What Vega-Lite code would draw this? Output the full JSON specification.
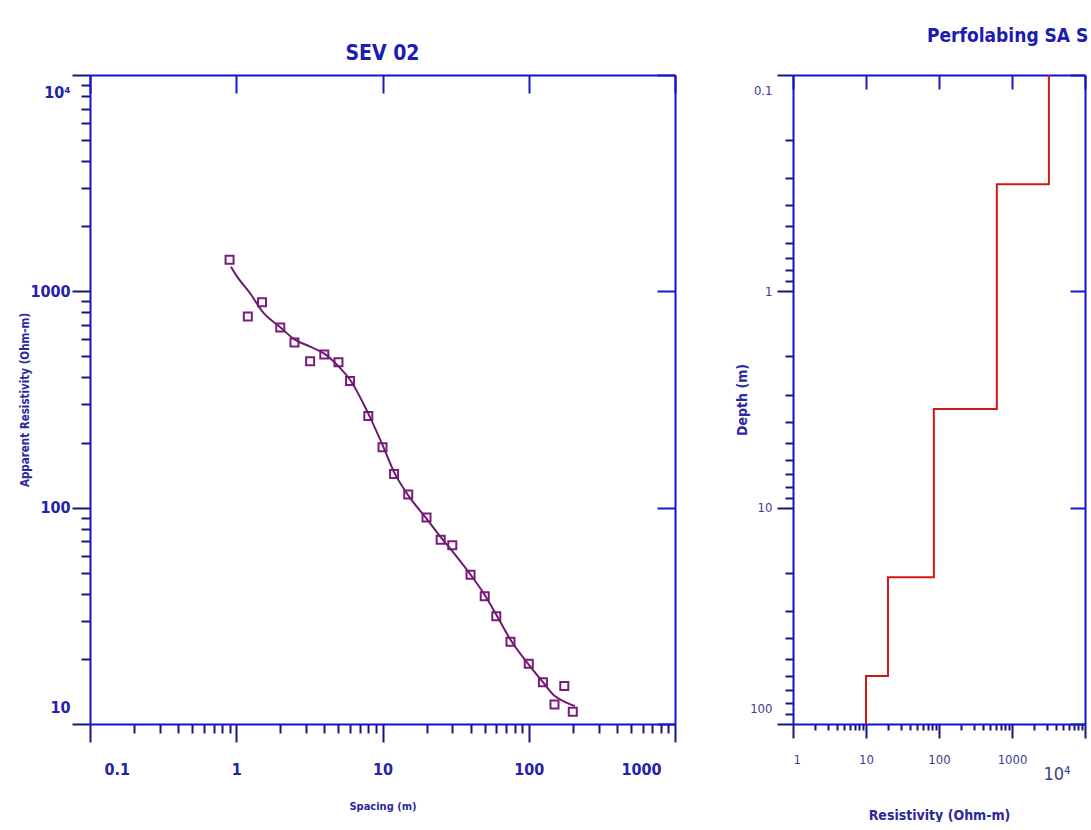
{
  "$schema": "https://vega.github.io/schema/vega-lite/v6.json",
  "background": "white",
  "padding": {"left": 19, "top": 27, "right": 0, "bottom": 0},
  "config": {
    "view": {"stroke": null},
    "axis": {"grid": false, "labelOverlap": false, "domainWidth": 2, "tickWidth": 2, "domainColor": "#1212d0"}
  },
  "datasets": {
    "obs": [
      {"spacing": 0.9, "rho": 1400},
      {"spacing": 1.2, "rho": 765},
      {"spacing": 1.5, "rho": 890},
      {"spacing": 2.0, "rho": 680},
      {"spacing": 2.5, "rho": 580},
      {"spacing": 3.2, "rho": 475},
      {"spacing": 4.0, "rho": 510},
      {"spacing": 5.0, "rho": 470},
      {"spacing": 6.0, "rho": 385},
      {"spacing": 8.0, "rho": 265},
      {"spacing": 10, "rho": 190},
      {"spacing": 12, "rho": 143},
      {"spacing": 15, "rho": 115},
      {"spacing": 20, "rho": 90},
      {"spacing": 25, "rho": 71},
      {"spacing": 30, "rho": 67},
      {"spacing": 40, "rho": 49},
      {"spacing": 50, "rho": 39},
      {"spacing": 60, "rho": 31.5},
      {"spacing": 75, "rho": 24},
      {"spacing": 100, "rho": 19},
      {"spacing": 125, "rho": 15.6},
      {"spacing": 150, "rho": 12.3},
      {"spacing": 175, "rho": 15},
      {"spacing": 200, "rho": 11.4}
    ],
    "curve": [
      {"spacing": 0.92, "rho": 1300},
      {"spacing": 1.0, "rho": 1185},
      {"spacing": 1.25, "rho": 975},
      {"spacing": 1.5, "rho": 810},
      {"spacing": 2.0, "rho": 682},
      {"spacing": 2.5, "rho": 600},
      {"spacing": 3.2, "rho": 555},
      {"spacing": 4.0, "rho": 515},
      {"spacing": 5.0, "rho": 450},
      {"spacing": 6.0, "rho": 390},
      {"spacing": 8.0, "rho": 272},
      {"spacing": 10, "rho": 195},
      {"spacing": 12, "rho": 146},
      {"spacing": 15, "rho": 114},
      {"spacing": 20, "rho": 89},
      {"spacing": 25, "rho": 73},
      {"spacing": 30, "rho": 63},
      {"spacing": 40, "rho": 49},
      {"spacing": 50, "rho": 39.5},
      {"spacing": 60, "rho": 32},
      {"spacing": 75, "rho": 24.5},
      {"spacing": 100, "rho": 18.8},
      {"spacing": 125, "rho": 15.6},
      {"spacing": 150, "rho": 13.5},
      {"spacing": 175, "rho": 12.7},
      {"spacing": 207, "rho": 12.1}
    ],
    "model": [
      {"i": 0, "res": 3200, "depth": 0.1},
      {"i": 1, "res": 3200, "depth": 0.32},
      {"i": 2, "res": 620, "depth": 0.32},
      {"i": 3, "res": 620, "depth": 3.5},
      {"i": 4, "res": 85, "depth": 3.5},
      {"i": 5, "res": 85, "depth": 21},
      {"i": 6, "res": 20, "depth": 21},
      {"i": 7, "res": 20, "depth": 60},
      {"i": 8, "res": 10, "depth": 60},
      {"i": 9, "res": 10, "depth": 100}
    ]
  },
  "bounds": "flush",
  "spacing": 118,
  "hconcat": [
    {
      "width": 585,
      "height": 649,
      "title": {"text": "SEV 02", "font": "DejaVu Sans Condensed, sans-serif", "fontSize": 21, "fontWeight": "bold", "color": "#1c1cb0", "offset": 10},
      "layer": [
        {
          "data": {"name": "obs"},
          "mark": {"type": "point", "shape": "square", "filled": false, "size": 64, "strokeWidth": 2, "color": "#7b1c7b", "opacity": 1},
          "encoding": {
            "x": {"field": "spacing", "type": "quantitative", "scale": {"type": "log", "domain": [0.1, 1000]},
              "axis": {"orient": "bottom", "title": "Spacing (m)",
                "values": [0.1,0.2,0.3,0.4,0.5,0.6,0.7,0.8,0.9,1,2,3,4,5,6,7,8,9,10,20,30,40,50,60,70,80,90,100,200,300,400,500,600,700,800,900,1000],
                "labelExpr": "abs(log(datum.value)/LN10 - round(log(datum.value)/LN10)) < 0.01 ? format(datum.value, '~g') : ''",
                "tickSize": {"condition": {"test": "abs(log(datum.value)/LN10 - round(log(datum.value)/LN10)) < 0.01", "value": 18}, "value": 9},
                "tickColor": "#16167a",
                "labelFont": "DejaVu Sans Condensed, sans-serif", "labelFontSize": 16, "labelFontWeight": "bold", "labelColor": "#2222aa",
                "labelPadding": 19, "labelFlush": true, "labelFlushOffset": -14,
                "titleFont": "DejaVu Sans Condensed, sans-serif", "titleFontSize": 11, "titleFontWeight": "bold", "titleColor": "#2a2aa0", "titlePadding": 23}},
            "y": {"field": "rho", "type": "quantitative", "scale": {"type": "log", "domain": [10, 10000]},
              "axis": {"orient": "left", "title": "Apparent Resistivity (Ohm-m)",
                "values": [10,20,30,40,50,60,70,80,90,100,200,300,400,500,600,700,800,900,1000,2000,3000,4000,5000,6000,7000,8000,9000,10000],
                "labelExpr": "abs(log(datum.value)/LN10 - round(log(datum.value)/LN10)) < 0.01 ? (datum.value > 9999 ? '10⁴' : format(datum.value, '~g')) : ''",
                "tickSize": {"condition": {"test": "abs(log(datum.value)/LN10 - round(log(datum.value)/LN10)) < 0.01", "value": 18}, "value": 9},
                "tickColor": "#16167a",
                "labelFont": "DejaVu Sans Condensed, sans-serif", "labelFontSize": 16, "labelFontWeight": "bold", "labelColor": "#2222aa",
                "labelPadding": 2, "labelFlush": true, "labelFlushOffset": -9,
                "titleFont": "DejaVu Sans Condensed, sans-serif", "titleFontSize": 11.5, "titleFontWeight": "bold", "titleColor": "#2a2aa0", "titlePadding": -1}}
          }
        },
        {
          "data": {"name": "curve"},
          "mark": {"type": "line", "interpolate": "monotone", "color": "#6e1a6e", "strokeWidth": 2},
          "encoding": {
            "x": {"field": "spacing", "type": "quantitative", "scale": {"type": "log", "domain": [0.1, 1000]},
              "axis": {"orient": "top", "title": null, "labels": false, "values": [0.1, 1, 10, 100, 1000], "tickSize": -18, "tickColor": "#1a1ac0"}},
            "y": {"field": "rho", "type": "quantitative", "scale": {"type": "log", "domain": [10, 10000]},
              "axis": {"orient": "right", "title": null, "labels": false, "values": [10, 100, 1000, 10000], "tickSize": -18, "tickColor": "#1a1ac0"}}
          }
        }
      ],
      "resolve": {"axis": {"x": "independent", "y": "independent"}}
    },
    {
      "width": 292,
      "height": 649,
      "title": {"text": "Perfolabing SA S", "font": "DejaVu Sans Condensed, sans-serif", "fontSize": 19, "fontWeight": "bold", "color": "#1c1cb0", "anchor": "start", "frame": "group", "dx": 134, "offset": 25},
      "data": {"name": "model"},
      "layer": [
        {
          "mark": {"type": "line", "color": "#d01818", "strokeWidth": 2},
          "encoding": {
            "order": {"field": "i", "type": "quantitative"},
            "x": {"field": "res", "type": "quantitative", "scale": {"type": "log", "domain": [1, 10000]},
              "axis": {"orient": "bottom", "title": "Resistivity (Ohm-m)",
                "values": [1,2,3,4,5,6,7,8,9,10,20,30,40,50,60,70,80,90,100,200,300,400,500,600,700,800,900,1000,2000,3000,4000,5000,6000,7000,8000,9000,10000],
                "labelExpr": "abs(log(datum.value)/LN10 - round(log(datum.value)/LN10)) < 0.01 ? (datum.value > 9999 ? '10⁴' : format(datum.value, '~g')) : ''",
                "tickSize": {"condition": {"test": "abs(log(datum.value)/LN10 - round(log(datum.value)/LN10)) < 0.01", "value": 14}, "value": 6},
                "tickColor": "#16167a",
                "labelFont": "DejaVu Sans Condensed, sans-serif",
                "labelFontSize": {"condition": {"test": "datum.value > 9999", "value": 18}, "value": 13},
                "labelOffset": {"condition": {"test": "datum.value > 9999", "value": -15}, "value": 0},
                "labelPadding": {"condition": {"test": "datum.value > 9999", "value": 27}, "value": 15},
                "labelColor": "#3c3c90",
                "titleFont": "DejaVu Sans Condensed, sans-serif", "titleFontSize": 14, "titleFontWeight": "bold", "titleColor": "#2a2a9a", "titlePadding": 25}},
            "y": {"field": "depth", "type": "quantitative", "scale": {"type": "log", "domain": [0.1, 100], "reverse": true},
              "axis": {"orient": "left", "title": "Depth (m)",
                "values": [0.1,0.2,0.3,0.4,0.5,0.6,0.7,0.8,0.9,1,2,3,4,5,6,7,8,9,10,20,30,40,50,60,70,80,90,100],
                "labelExpr": "abs(log(datum.value)/LN10 - round(log(datum.value)/LN10)) < 0.01 ? format(datum.value, '~g') : ''",
                "tickSize": {"condition": {"test": "abs(log(datum.value)/LN10 - round(log(datum.value)/LN10)) < 0.01", "value": 16}, "value": 8},
                "tickColor": "#16167a",
                "labelFont": "DejaVu Sans Condensed, sans-serif", "labelFontSize": 13, "labelColor": "#3c3c90",
                "labelPadding": 5, "labelFlush": true, "labelFlushOffset": -9,
                "titleFont": "DejaVu Sans Condensed, sans-serif", "titleFontSize": 14, "titleFontWeight": "bold", "titleColor": "#2a2aa0", "titlePadding": 0}}
          }
        },
        {
          "mark": {"type": "line", "strokeOpacity": 0},
          "encoding": {
            "order": {"field": "i", "type": "quantitative"},
            "x": {"field": "res", "type": "quantitative", "scale": {"type": "log", "domain": [1, 10000]},
              "axis": {"orient": "top", "title": null, "labels": false, "values": [1, 10, 100, 1000, 10000], "tickSize": -14, "tickColor": "#1a1ac0"}},
            "y": {"field": "depth", "type": "quantitative", "scale": {"type": "log", "domain": [0.1, 100], "reverse": true},
              "axis": {"orient": "right", "title": null, "labels": false, "values": [0.1, 1, 10, 100], "tickSize": -15, "tickColor": "#1a1ac0"}}
          }
        }
      ],
      "resolve": {"axis": {"x": "independent", "y": "independent"}}
    }
  ]
}
